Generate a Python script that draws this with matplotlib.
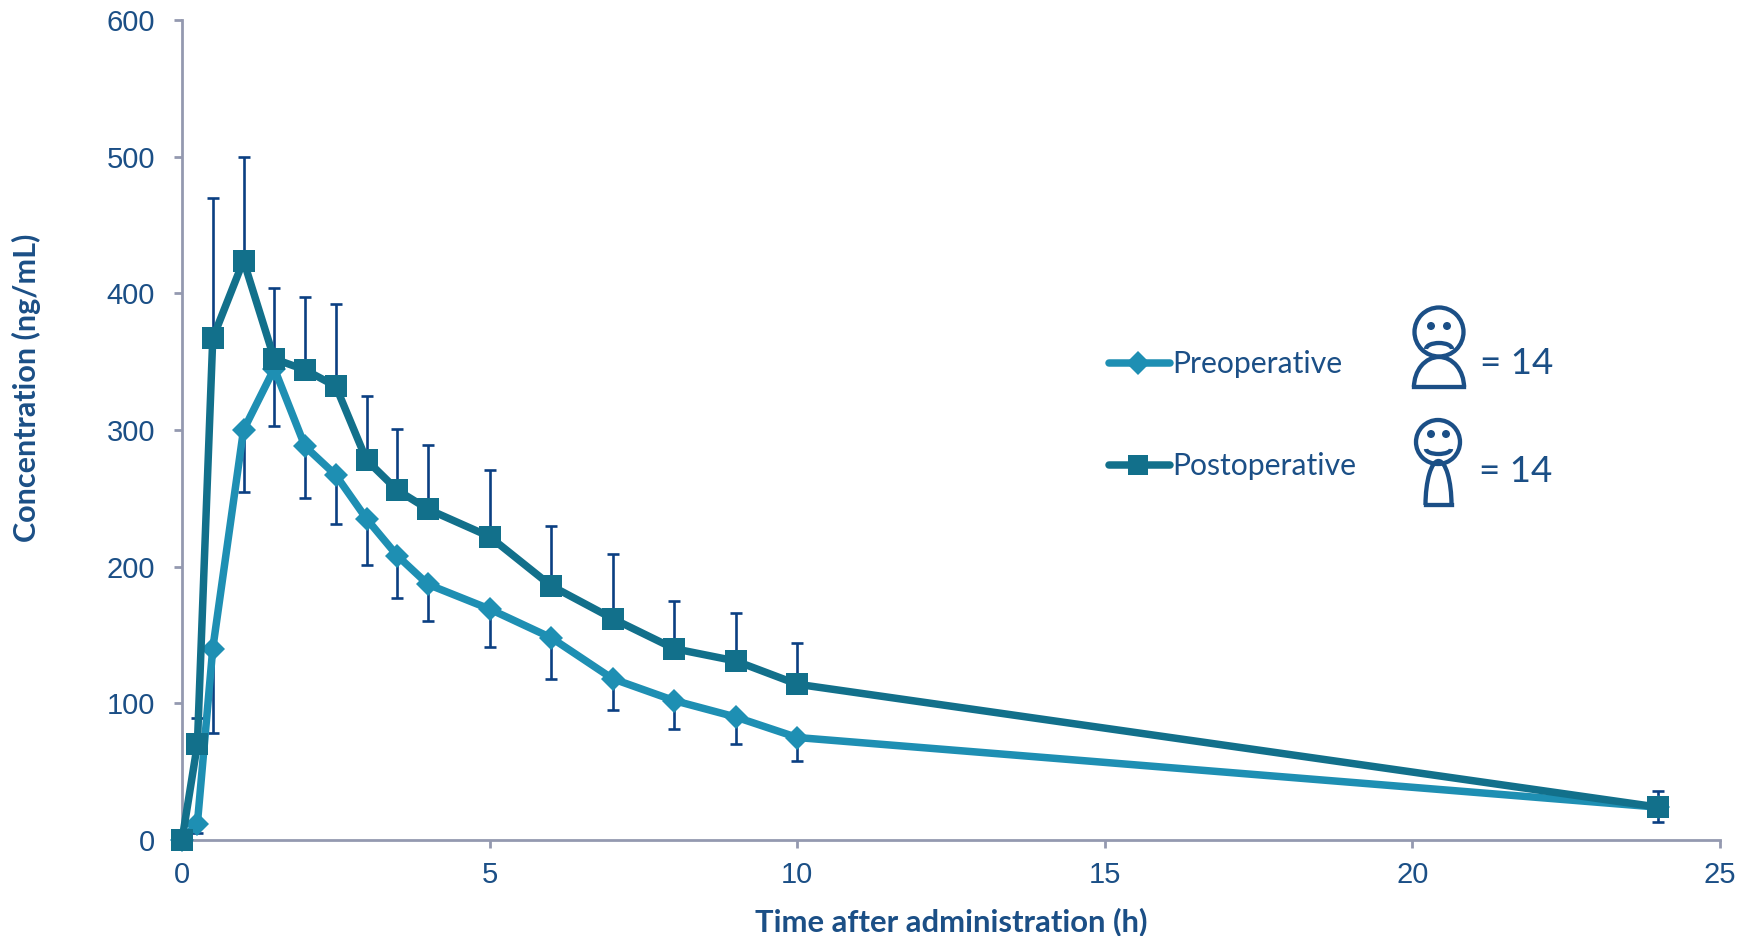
import matplotlib
matplotlib.use('Agg')
import matplotlib.pyplot as plt
from matplotlib.patches import Circle, Arc
import numpy as np

# datos
tiempo = np.array([0, 0.25, 0.5, 1, 1.5, 2, 2.5, 3, 3.5, 4, 5, 6, 7, 8, 9, 10, 24])
pre = np.array([0, 12, 140, 300, 345, 288, 267, 235, 208, 187, 169, 148, 118, 102, 90, 75, 24])
pre_inf = np.array([0, 5, 78, 255, 303, 250, 231, 201, 177, 160, 141, 118, 95, 81, 70, 58, 13])
post = np.array([0, 70, 367, 424, 352, 344, 332, 278, 256, 242, 222, 186, 162, 140, 131, 114, 24])
post_sup = np.array([0, 89, 470, 500, 404, 397, 392, 325, 301, 289, 271, 230, 209, 175, 166, 144, 36])
xticks = [0, 5, 10, 15, 20, 25]
yticks = [0, 100, 200, 300, 400, 500, 600]

COL_PRE = '#1E8FB3'
COL_POST = '#12708B'
COL_ERR = '#0B3F82'
COL_TXT = '#1B4F86'
COL_EJE = '#9499B0'

fig = plt.figure(figsize=(17.52, 9.36), dpi=100)
ax = fig.add_axes([182 / 1752, 96 / 936, 1538 / 1752, 820 / 936])

ax.errorbar(tiempo, pre, yerr=[pre - pre_inf, np.zeros(len(pre))], fmt='none',
            ecolor=COL_ERR, elinewidth=1.9, capsize=4.5, capthick=1.9, zorder=2)
ax.errorbar(tiempo, post, yerr=[np.zeros(len(post)), post_sup - post], fmt='none',
            ecolor=COL_ERR, elinewidth=1.9, capsize=4.5, capthick=1.9, zorder=2)
ax.plot(tiempo, pre, color=COL_PRE, lw=5.4, marker='D', ms=12, mew=0, clip_on=False, zorder=3)
ax.plot(tiempo, post, color=COL_POST, lw=5.4, marker='s', ms=16.5, mew=0, clip_on=False, zorder=4)

ax.set_xlim(0, 25)
ax.set_ylim(0, 600)
ax.set_xticks(xticks)
ax.set_yticks(yticks)
ax.spines['top'].set_visible(False)
ax.spines['right'].set_visible(False)
ax.spines['left'].set_color(COL_EJE)
ax.spines['bottom'].set_color(COL_EJE)
ax.spines['left'].set_linewidth(2)
ax.spines['bottom'].set_linewidth(2)
ax.tick_params(length=6, width=2, color=COL_EJE, labelcolor=COL_TXT, labelsize=21)
ax.tick_params(axis='x', pad=9)
ax.tick_params(axis='y', pad=13.5)
for t in ax.get_xticklabels() + ax.get_yticklabels():
    t.set_fontfamily('Liberation Sans')

ax.set_xlabel('Time after administration (h)', fontfamily='Lato', fontweight='bold',
              fontsize=22.3, color=COL_TXT, va='center')
ax.xaxis.set_label_coords(0.5, -0.1)
ax.set_ylabel('Concentration (ng/mL)', fontfamily='Lato', fontweight='bold',
              fontsize=22, color=COL_TXT, va='center')
ax.yaxis.set_label_coords(-0.101, 0.551)

# capa en pixeles para la leyenda y los muñecos
capa = fig.add_axes([0, 0, 1, 1])
capa.set_xlim(0, 1752)
capa.set_ylim(936, 0)
capa.axis('off')
capa.patch.set_alpha(0)

capa.plot([1109, 1170], [363, 363], color=COL_PRE, lw=5.4, solid_capstyle='round')
capa.plot([1138], [363], color=COL_PRE, marker='D', ms=12, mew=0)
capa.plot([1109, 1170], [465, 465], color=COL_POST, lw=5.4, solid_capstyle='round')
capa.plot([1138], [465], color=COL_POST, marker='s', ms=15, mew=0)
capa.text(1172, 364, 'Preoperative', fontfamily='Lato', fontsize=21.7, color=COL_TXT, va='center')
capa.text(1172, 466, 'Postoperative', fontfamily='Lato', fontsize=21.7, color=COL_TXT, va='center')
capa.text(1480, 364, '= 14', fontfamily='Lato', fontsize=26.5, color=COL_TXT, va='center')
capa.text(1479, 472, '= 14', fontfamily='Lato', fontsize=26.5, color=COL_TXT, va='center')

lw_ico = 3.1
# triste
capa.add_patch(Circle((1439, 332), 24.5, fill=False, ec=COL_TXT, lw=lw_ico))
capa.add_patch(Circle((1431, 326), 4, fc=COL_TXT, ec='none'))
capa.add_patch(Circle((1447, 326), 4, fc=COL_TXT, ec='none'))
capa.add_patch(Arc((1439, 349), 26, 12, theta1=180, theta2=360, ec=COL_TXT, lw=lw_ico))
capa.add_patch(Arc((1439, 387), 50, 60, theta1=180, theta2=360, ec=COL_TXT, lw=lw_ico))
capa.plot([1414, 1464], [387, 387], color=COL_TXT, lw=lw_ico)
# contento
capa.add_patch(Circle((1438, 442), 22, fill=False, ec=COL_TXT, lw=lw_ico))
capa.add_patch(Circle((1431, 434), 4, fc=COL_TXT, ec='none'))
capa.add_patch(Circle((1446, 434), 4, fc=COL_TXT, ec='none'))
capa.add_patch(Arc((1438.5, 449), 25, 10, theta1=0, theta2=180, ec=COL_TXT, lw=lw_ico))
capa.add_patch(Arc((1438.5, 505), 26, 88, theta1=180, theta2=360, ec=COL_TXT, lw=lw_ico))
capa.plot([1425.5, 1451.5], [505, 505], color=COL_TXT, lw=lw_ico)

fig.savefig('out.png', dpi=100)
